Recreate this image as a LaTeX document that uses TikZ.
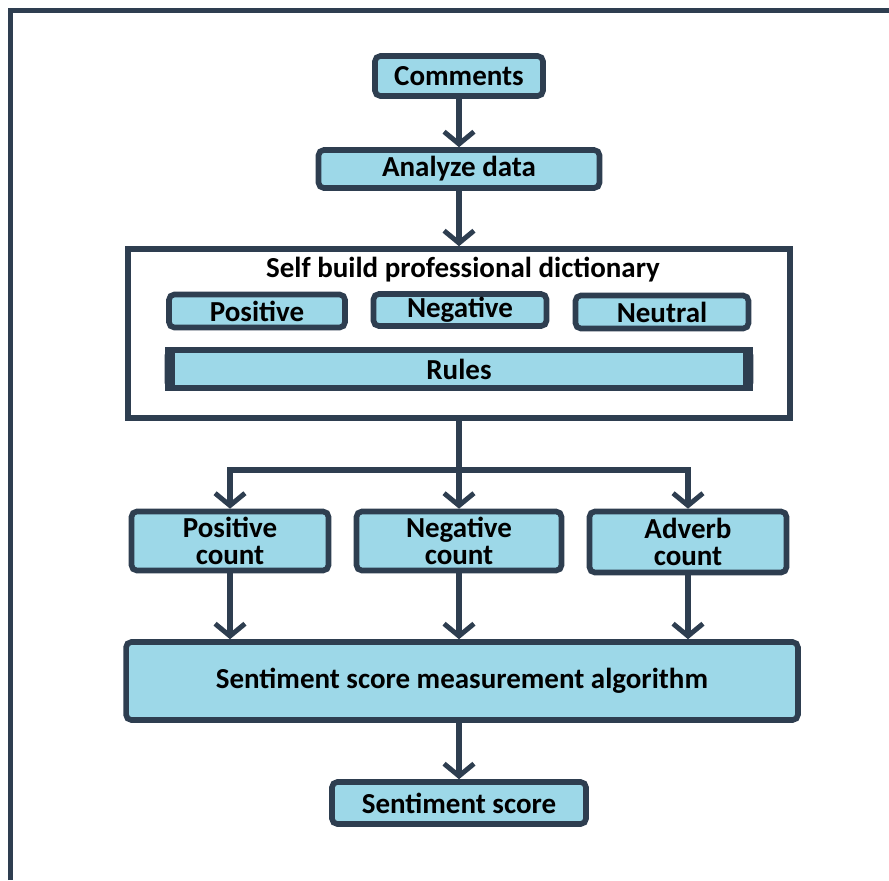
\documentclass[tikz,border=0pt]{standalone}
\usepackage{fontspec}
\setmainfont{Carlito}
\usetikzlibrary{arrows.meta,positioning,calc}

\definecolor{navy}{RGB}{46,62,80}
\definecolor{boxblue}{RGB}{157,216,232}

\tikzset{
  box/.style={draw=navy, fill=boxblue, line width=3.2pt, rounded corners=3pt,
    inner sep=0pt, align=center, font=\bfseries\fontsize{16.5}{15.5}\selectfont},
  flow/.style={draw=navy, line width=3.6pt},
  arrow/.style={flow, -{Straight Barb[length=7pt,width=17pt,line width=2.8pt]}}
}

\begin{document}
\begin{tikzpicture}[x=0.02cm,y=-0.02cm]
    \useasboundingbox (0,0) rectangle (889,880);
    % page frame
    \draw[navy, line width=3pt] (10.5,880) -- (10.5,10.5) -- (889,10.5);

    \node[box, minimum width=3.36cm, minimum height=0.8cm]  (comments) at (459,76)  {Comments};
    \node[box, minimum width=5.62cm, minimum height=0.76cm] (analyze)  at (459,169) {Analyze data};

    % dictionary block
    \node[draw=navy, fill=white, line width=3.2pt, minimum width=13.24cm, minimum height=3.38cm] (dict) at (459,333.5) {};
    \node[font=\bfseries\fontsize{16.5}{19}\selectfont] (dicttitle) at (463,270) {Self build professional dictionary};
    \node[box, minimum width=3.52cm, minimum height=0.66cm] (pos) at (257,311) {Positive};
    \node[box, minimum width=3.46cm, minimum height=0.64cm] (neg) at (460,310) {Negative};
    \node[box, minimum width=3.46cm, minimum height=0.66cm] (neu) at (662,312) {Neutral};
    \node[box, minimum width=11.66cm, minimum height=0.76cm] (rules) at (459,369) {Rules};
    \fill[navy] (rules.north west) rectangle ([xshift=0.2cm]rules.south west);
    \fill[navy] (rules.north east) rectangle ([xshift=-0.2cm]rules.south east);

    \node[box, minimum width=3.94cm, minimum height=1.18cm] (poscount) at (230,541) {Positive\\count};
    \node[box, minimum width=4.1cm,  minimum height=1.18cm] (negcount) at (459,541) {Negative\\count};
    \node[box, minimum width=3.94cm, minimum height=1.22cm] (advcount) at (688,542) {Adverb\\count};

    \node[box, minimum width=13.44cm, minimum height=1.56cm] (algo)  at (462,681) {Sentiment score measurement algorithm};
    \node[box, minimum width=5.08cm,  minimum height=0.84cm] (score) at (459,803) {Sentiment score};

    \coordinate (split) at (459,470);

    \path[arrow]
    (comments) edge (analyze)
    (analyze)  edge (dict)
    ;
    \draw[flow] (dict.south) -- (split);
    \draw[arrow] (split) -| (poscount.north);
    \draw[arrow] (split) -- (negcount.north);
    \draw[arrow] (split) -| (advcount.north);

    \draw[arrow] (poscount.south) -- (poscount.south |- algo.north);
    \draw[arrow] (negcount.south) -- (negcount.south |- algo.north);
    \draw[arrow] (advcount.south) -- (advcount.south |- algo.north);
    \draw[arrow] (score.north |- algo.south) -- (score);
\end{tikzpicture}
\end{document}
